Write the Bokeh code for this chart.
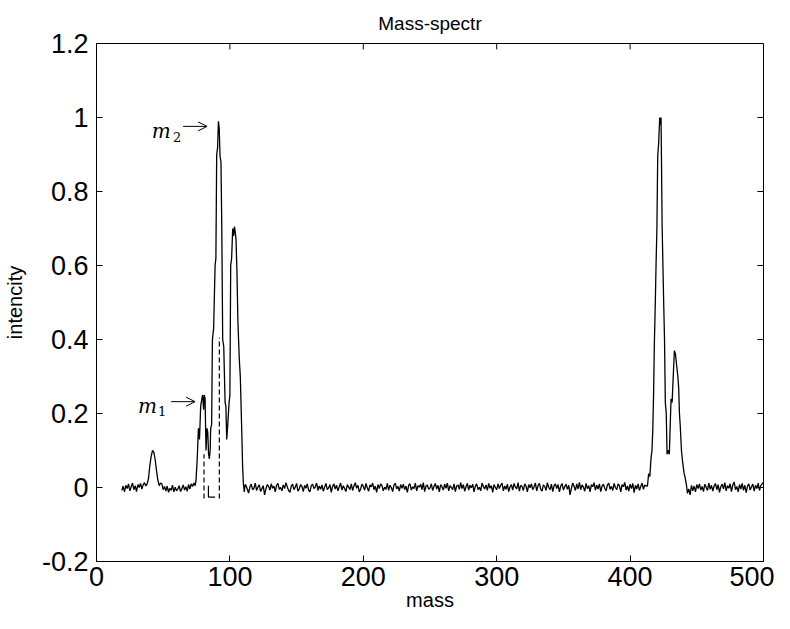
from bokeh.plotting import figure
from bokeh.models import Range1d, FixedTicker, Label, Arrow, OpenHead
from bokeh.embed import file_html
from bokeh.resources import INLINE

# ---------------- data ----------------
base_a_mass = list(range(19, 38))
base_a_int = [-0.008, 0.004, -0.012, 0.006, -0.003, 0.010, -0.009, 0.002, 0.012, -0.006,
              0.005, -0.011, 0.008, 0.000, 0.011, -0.004, 0.007, 0.013, 0.004]

peak43_mass = [38, 39, 40, 41, 42, 43, 44, 45, 46, 47, 48]
peak43_int = [0.010, 0.025, 0.060, 0.085, 0.100, 0.095, 0.075, 0.045, 0.020, 0.005, 0.012]

base_b_mass = list(range(49, 74))
base_b_int = [0.010, -0.006, 0.003, -0.010, 0.004, -0.013, -0.002, -0.008, 0.006, -0.012,
              0.001, -0.009, -0.004, 0.005, -0.011, -0.003, 0.007, -0.007, 0.002, -0.010,
              0.008, -0.004, 0.010, 0.003, 0.012]

cluster_mass = [74.0, 74.6, 75.5, 76.4, 77.2, 78.1, 79.0, 79.6, 80.3, 80.8,
                81.4, 82.1, 82.8, 83.4, 84.0, 84.6, 85.2, 85.6, 86.3, 86.9,
                87.8, 88.9, 89.5, 90.1, 90.8, 91.4, 92.0, 92.6, 93.3, 93.9,
                94.6, 95.4, 96.4, 97.0, 97.6, 98.4, 99.4, 100.0, 100.6, 101.3,
                102.1, 102.8, 103.4, 104.0, 104.6, 105.3, 106.0, 107.0, 107.8, 108.9,
                109.5, 110.1, 110.8, 111.4]
cluster_int = [0.005, 0.02, 0.077, 0.16, 0.13, 0.22, 0.24, 0.25, 0.21, 0.25,
               0.24, 0.10, 0.16, 0.15, 0.09, 0.077, 0.10, 0.16, 0.17, 0.40,
               0.43, 0.60, 0.62, 0.90, 0.92, 0.99, 0.97, 0.896, 0.88, 0.71,
               0.40, 0.38, 0.23, 0.22, 0.13, 0.17, 0.23, 0.25, 0.60, 0.62,
               0.70, 0.68, 0.705, 0.69, 0.67, 0.58, 0.45, 0.35, 0.30, 0.15,
               0.06, 0.01, -0.012, 0.008]

base_c_mass = list(range(112, 413))
base_c_int = [0.006, -0.004, -0.015, 0.002, 0.009, -0.006, -0.002, 0.012, -0.008, 0.001,
              0.007, -0.011, -0.003, 0.005, -0.020, -0.004, 0.008, 0.003, -0.007, 0.010,
              -0.002, 0.004, -0.012, 0.006, 0.011, -0.005, 0.000, -0.009, 0.007, -0.003,
              0.013, 0.002, -0.008, -0.013, 0.004, 0.009, -0.006, 0.001, 0.011, -0.010,
              -0.004, 0.008, 0.003, -0.011, 0.006, -0.002, 0.010, -0.007, -0.012, 0.005,
              0.009, -0.003, 0.002, 0.012, -0.008, 0.004, -0.005, 0.007, -0.010, 0.001,
              0.011, -0.006, -0.001, 0.008, -0.013, 0.003, 0.010, -0.004, 0.006, -0.009,
              0.002, 0.012, -0.007, 0.005, -0.003, -0.011, 0.008, 0.001, -0.006, 0.010,
              -0.008, 0.004, 0.013, -0.002, 0.006, -0.012, -0.004, 0.009, 0.003, -0.007,
              0.011, -0.001, -0.010, 0.007, 0.002, 0.012, -0.006, 0.004, -0.013, 0.008,
              -0.003, 0.010, 0.005, -0.009, 0.001, -0.005, 0.011, -0.008, 0.006, 0.000,
              -0.011, 0.007, 0.012, -0.004, 0.003, -0.010, 0.008, -0.002, 0.009, -0.006,
              0.004, -0.013, 0.006, 0.010, -0.007, 0.002, -0.003, 0.012, -0.009, 0.005,
              0.001, 0.009, -0.006, 0.013, -0.011, 0.004, 0.007, -0.005, -0.001, 0.010,
              -0.008, 0.003, 0.011, -0.004, 0.006, -0.012, 0.008, 0.002, -0.007, 0.009,
              -0.002, 0.012, -0.009, 0.005, 0.000, -0.006, 0.010, -0.011, 0.004, 0.007,
              -0.005, 0.013, -0.003, 0.008, -0.010, 0.002, 0.011, -0.007, 0.006, -0.001,
              0.009, -0.012, 0.004, 0.010, -0.006, 0.001, -0.009, 0.012, 0.003, -0.004,
              0.007, -0.008, 0.011, -0.002, 0.005, -0.013, 0.008, 0.000, -0.006, 0.010,
              -0.003, 0.006, 0.012, -0.009, 0.004, -0.005, 0.009, -0.011, 0.002, 0.008,
              -0.007, 0.011, 0.001, -0.004, 0.013, -0.010, 0.006, 0.003, -0.008, 0.010,
              0.004, -0.012, 0.008, -0.001, 0.010, -0.006, 0.002, 0.012, -0.009, 0.005,
              0.011, -0.004, -0.010, 0.007, 0.003, -0.008, 0.013, 0.000, -0.006, 0.009,
              -0.011, 0.005, 0.010, -0.003, 0.008, -0.012, 0.004, 0.011, -0.007, 0.002,
              0.009, -0.005, 0.006, -0.020, -0.002, 0.012, 0.003, -0.008, 0.010, -0.004,
              0.014, -0.006, 0.007, 0.001, -0.010, 0.011, -0.003, 0.005, -0.012, 0.008,
              0.002, 0.013, -0.007, 0.006, -0.004, 0.010, -0.011, 0.004, 0.009, -0.002,
              -0.009, 0.007, 0.012, -0.005, 0.003, -0.008, 0.011, 0.000, -0.006, 0.010,
              0.005, -0.012, 0.008, 0.002, 0.014, -0.007, 0.004, -0.010, 0.009, -0.003,
              0.011, -0.014, 0.006, -0.004, 0.010, -0.008, 0.003, 0.012, -0.005, 0.007,
              0.004]

peak423_mass = [413.0, 413.9, 414.8, 415.7, 416.4, 417.0, 417.6, 418.2, 418.9, 419.5,
                420.1, 420.7, 421.4, 422.2, 422.7, 423.2, 424.0, 424.6, 425.2, 425.8,
                426.4, 427.1, 427.7, 428.5, 429.4, 430.0, 430.7, 431.5, 432.2, 432.7,
                433.2, 434.0, 434.6, 435.2, 435.8, 436.4, 437.0, 437.6, 438.5, 439.4,
                440.4, 441.4, 442.3]
peak423_int = [0.004, 0.037, 0.030, 0.08, 0.10, 0.157, 0.25, 0.39, 0.50, 0.61,
               0.70, 0.896, 0.93, 1.0, 0.98, 1.0, 0.71, 0.60, 0.495, 0.40,
               0.23, 0.20, 0.09, 0.10, 0.09, 0.16, 0.24, 0.23, 0.29, 0.33,
               0.37, 0.36, 0.34, 0.32, 0.30, 0.27, 0.20, 0.166, 0.10, 0.068,
               0.04, 0.024, 0.005]

base_d_mass = list(range(443, 501))
base_d_int = [-0.016, -0.004, -0.020, 0.006, -0.009, 0.004, -0.012, 0.008, -0.003, 0.010,
              -0.007, 0.003, -0.011, 0.009, 0.001, -0.008, 0.012, -0.005, 0.006, -0.010,
              0.004, 0.011, -0.006, 0.008, -0.013, 0.002, 0.009, -0.004, 0.013, -0.009,
              0.005, -0.002, 0.010, -0.011, 0.007, 0.015, -0.006, 0.003, -0.012, 0.008,
              -0.004, 0.011, -0.008, 0.006, -0.014, 0.004, 0.010, -0.007, 0.002, 0.009,
              -0.010, 0.006, -0.003, 0.012, -0.008, 0.005, 0.010, 0.014]

# dashed markers under m1 / m2 and the small bracket
dash_mass = [80.6, 92.1]
dash_top = [0.09, 0.405]
dash_bottom = [-0.03, -0.03]
bracket_mass = [83.9, 83.9, 88.9]
bracket_int = [0.005, -0.026, -0.026]

x_ticks = [0, 100, 200, 300, 400, 500]
x_tick_labels = ["0", "100", "200", "300", "400", "500"]
y_ticks = [-0.2, 0, 0.2, 0.4, 0.6, 0.8, 1.0, 1.2]
y_tick_labels = ["-0.2", "0", "0.2", "0.4", "0.6", "0.8", "1", "1.2"]
x_min, x_max = 0, 500
y_min, y_max = -0.2, 1.2

mass = base_a_mass + peak43_mass + base_b_mass + cluster_mass + base_c_mass + peak423_mass + base_d_mass
intensity = base_a_int + peak43_int + base_b_int + cluster_int + base_c_int + peak423_int + base_d_int

# ---------------- figure ----------------
FONT = "Liberation Sans"
p = figure(width=774, height=613, output_backend="svg", toolbar_location=None,
           x_range=Range1d(x_min, x_max), y_range=Range1d(y_min, y_max),
           min_border_left=96, min_border_right=11, min_border_top=43, min_border_bottom=46,
           title="Mass-spectr")
p.title.align = "center"
p.title.text_font = FONT
p.title.text_font_size = "19px"
p.title.text_font_style = "normal"
p.title.text_color = "black"
p.title.standoff = 20
p.outline_line_color = "black"
p.outline_line_width = 1
p.xgrid.visible = False
p.ygrid.visible = False
p.background_fill_color = "white"
p.border_fill_color = "white"

def style_axis(ax, ticks, labels):
    ax.ticker = FixedTicker(ticks=ticks)
    ax.major_label_overrides = {t: l for t, l in zip(ticks, labels)}
    ax.major_tick_in = 6
    ax.major_tick_out = 0
    ax.minor_tick_line_color = None
    ax.axis_line_color = "black"
    ax.major_tick_line_color = "black"
    ax.major_label_text_font = FONT
    ax.major_label_text_color = "black"
    ax.major_label_text_font_size = "27px"
    ax.major_label_standoff = 8
    ax.axis_label_text_font = FONT
    ax.axis_label_text_font_size = "20px"
    ax.axis_label_text_font_style = "normal"
    ax.axis_label_text_color = "black"

xa = p.xaxis[0]
ya = p.yaxis[0]
style_axis(xa, x_ticks, x_tick_labels)
style_axis(ya, y_ticks, y_tick_labels)
xa.major_label_standoff = 5
xa.axis_label = "mass"
xa.axis_label_standoff = 0
ya.axis_label = "intencity"
ya.axis_label_standoff = 13

# inward ticks on the top and right edges of the box (MATLAB "box on")
tick_len_y = 0.016
tick_len_x = 4.5
p.segment(x0=x_ticks, y0=[y_max] * len(x_ticks), x1=x_ticks,
          y1=[y_max - tick_len_y] * len(x_ticks), line_color="black", line_width=1)
p.segment(x0=[x_max] * len(y_ticks), y0=y_ticks, x1=[x_max - tick_len_x] * len(y_ticks),
          y1=y_ticks, line_color="black", line_width=1)

# spectrum
p.line(mass, intensity, line_color="black", line_width=1.3)

# dashed verticals and bracket
p.segment(x0=dash_mass, y0=dash_bottom, x1=dash_mass, y1=dash_top,
          line_color="black", line_width=1.2, line_dash="5 3")
p.line(bracket_mass, bracket_int, line_color="black", line_width=1.2)

# annotations m2 / m1
SERIF = "DejaVu Serif"
for (mx, my, sx, sy, sub, ax0, ax1, ay) in [
        (41.4, 0.963, 57.4, 0.948, "2", 64.9, 82.9, 0.976),
        (31.1, 0.219, 46.1, 0.206, "1", 55.9, 73.9, 0.232)]:
    p.add_layout(Label(x=mx, y=my, text="m", text_font=SERIF, text_font_style="italic",
                       text_font_size="20px", text_baseline="alphabetic", text_color="black"))
    p.add_layout(Label(x=sx, y=sy, text=sub, text_font=SERIF,
                       text_font_size="13px", text_baseline="alphabetic", text_color="black"))
    p.add_layout(Arrow(end=OpenHead(size=9, line_width=1, line_color="black"),
                       x_start=ax0, y_start=ay, x_end=ax1, y_end=ay,
                       line_color="black", line_width=1))

open("out.html", "w").write(file_html(p, INLINE))
